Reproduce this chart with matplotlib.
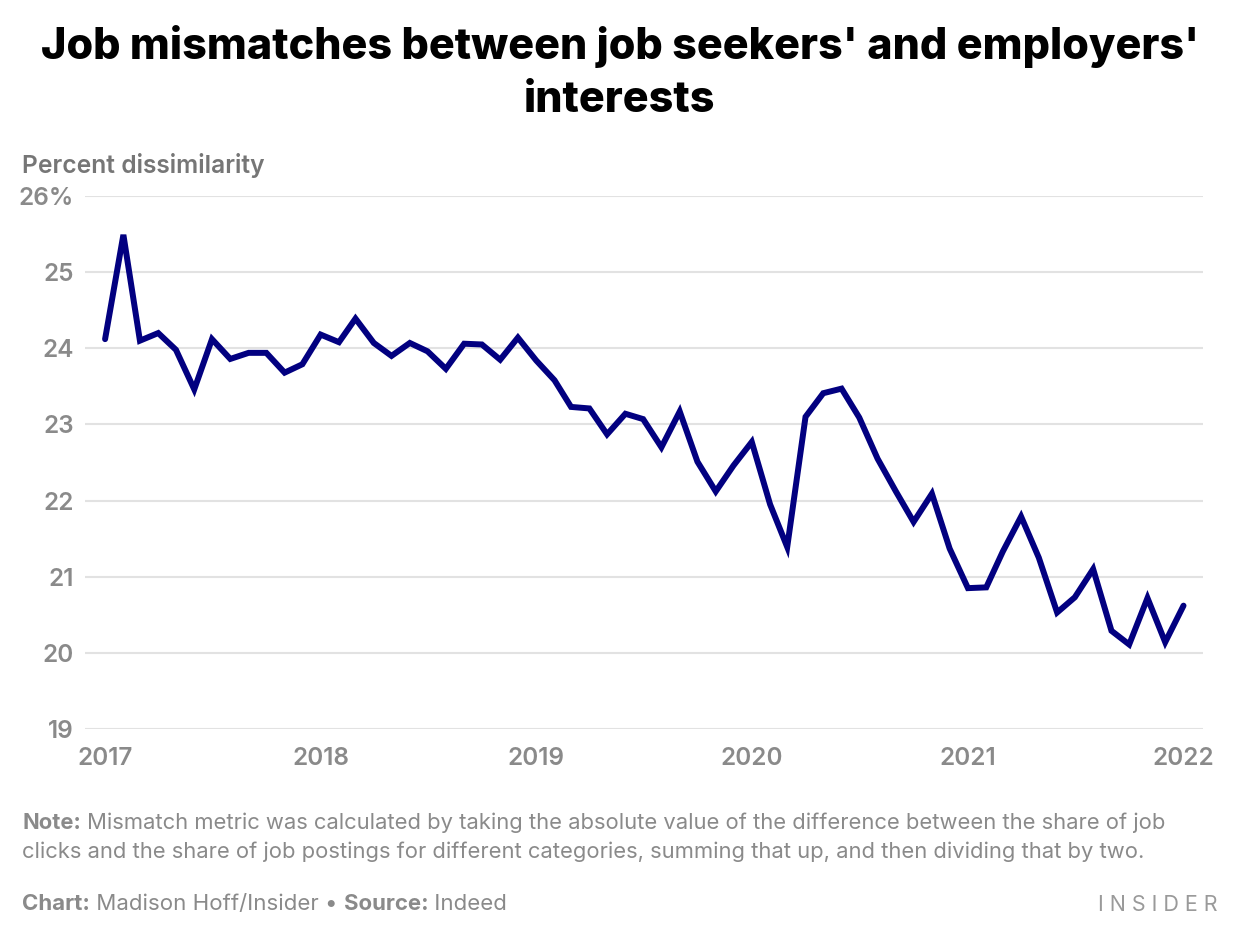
import matplotlib
matplotlib.use("Agg")
import matplotlib.pyplot as plt
import matplotlib.dates as mdates
import pandas as pd

# monthly mismatch metric, Jan 2017 .. Jan 2022
months = pd.date_range("2017-01-01", periods=61, freq="MS")
dissimilarity = [
    24.12, 25.49, 24.10, 24.20, 23.98, 23.46, 24.12, 23.86, 23.94, 23.94, 23.68, 23.79,
    24.18, 24.08, 24.39, 24.07, 23.90, 24.07, 23.96, 23.73, 24.06, 24.05, 23.85, 24.14,
    23.84, 23.58, 23.23, 23.21, 22.87, 23.14, 23.07, 22.70, 23.17, 22.51, 22.12, 22.46,
    22.77, 21.95, 21.39, 23.10, 23.41, 23.47, 23.09, 22.55, 22.12, 21.72, 22.09, 21.37,
    20.85, 20.86, 21.33, 21.79, 21.25, 20.53, 20.73, 21.10, 20.29, 20.11, 20.72, 20.14,
    20.62,
]
y_ticks = [19, 20, 21, 22, 23, 24, 25, 26]
y_labels = ["19", "20", "21", "22", "23", "24", "25", "26%"]
x_years = [2017, 2018, 2019, 2020, 2021, 2022]

title = "Job mismatches between job seekers' and employers'\ninterests"
y_title = "Percent dissimilarity"
note_lines = [
    ("Note:", " Mismatch metric was calculated by taking the absolute value of the difference between the share of job"),
    ("", "clicks and the share of job postings for different categories, summing that up, and then dividing that by two."),
]
credit = [("Chart:", True), (" Madison Hoff/Insider \u2022 ", False), ("Source:", True), (" Indeed", False)]

W, H = 1240, 940
plt.rcParams["font.family"] = ["Inter", "DejaVu Sans"]
GRAY = "#8a8a8a"
DARK_GRAY = "#767676"
NAVY = "#020080"

fig = plt.figure(figsize=(W / 100, H / 100), dpi=100)
ax = fig.add_axes([85 / W, 1 - 729 / H, (1203 - 85) / W, (729 - 196) / H])

ax.plot(months, dissimilarity, color=NAVY, lw=4.3, solid_joinstyle="miter", solid_capstyle="round", zorder=3)

ax.set_ylim(19, 26)
ax.set_yticks(y_ticks)
ax.set_yticklabels(y_labels)
ax.set_xlim(pd.Timestamp("2016-11-28"), pd.Timestamp("2022-02-03"))
ax.set_xticks([pd.Timestamp(f"{y}-01-01") for y in x_years])
ax.xaxis.set_major_formatter(mdates.DateFormatter("%Y"))

ax.grid(axis="y", color="#e2e2e2", lw=1.5, zorder=0)
ax.grid(axis="x", visible=False)
for s in ax.spines.values():
    s.set_visible(False)
ax.tick_params(axis="both", length=0, labelsize=17.5, labelcolor=GRAY)
ax.tick_params(axis="y", pad=8)
ax.tick_params(axis="x", pad=13)
for lab in ax.get_xticklabels() + ax.get_yticklabels():
    lab.set_fontweight("semibold")


def px(x, y):
    return x / W, 1 - y / H


fig.text(*px(620, 25), title, ha="center", va="top", fontsize=31, fontweight="heavy",
         color="black", linespacing=1.38)
fig.text(*px(22, 165), y_title, ha="left", va="center", fontsize=17.7,
         fontweight="semibold", color=DARK_GRAY)

renderer = fig.canvas.get_renderer()


def runs(x0, y, parts, size):
    # draw bold/regular pieces one after another on a line
    x = x0
    for text, bold in parts:
        t = fig.text(*px(x, y), text, ha="left", va="center", fontsize=size,
                     fontweight="bold" if bold else "normal", color=GRAY)
        x += t.get_window_extent(renderer).width


for i, (head, rest) in enumerate(note_lines):
    runs(22, 823 + i * 29, [(head, True), (rest, False)], 15.8)

runs(22, 904, credit, 16)

fig.text(*px(1218, 905), "I N S I D E R", ha="right", va="center", fontsize=15.5,
         color="#9a9a9a", fontweight="normal")

fig.savefig("out.png", dpi=100, facecolor="white")
